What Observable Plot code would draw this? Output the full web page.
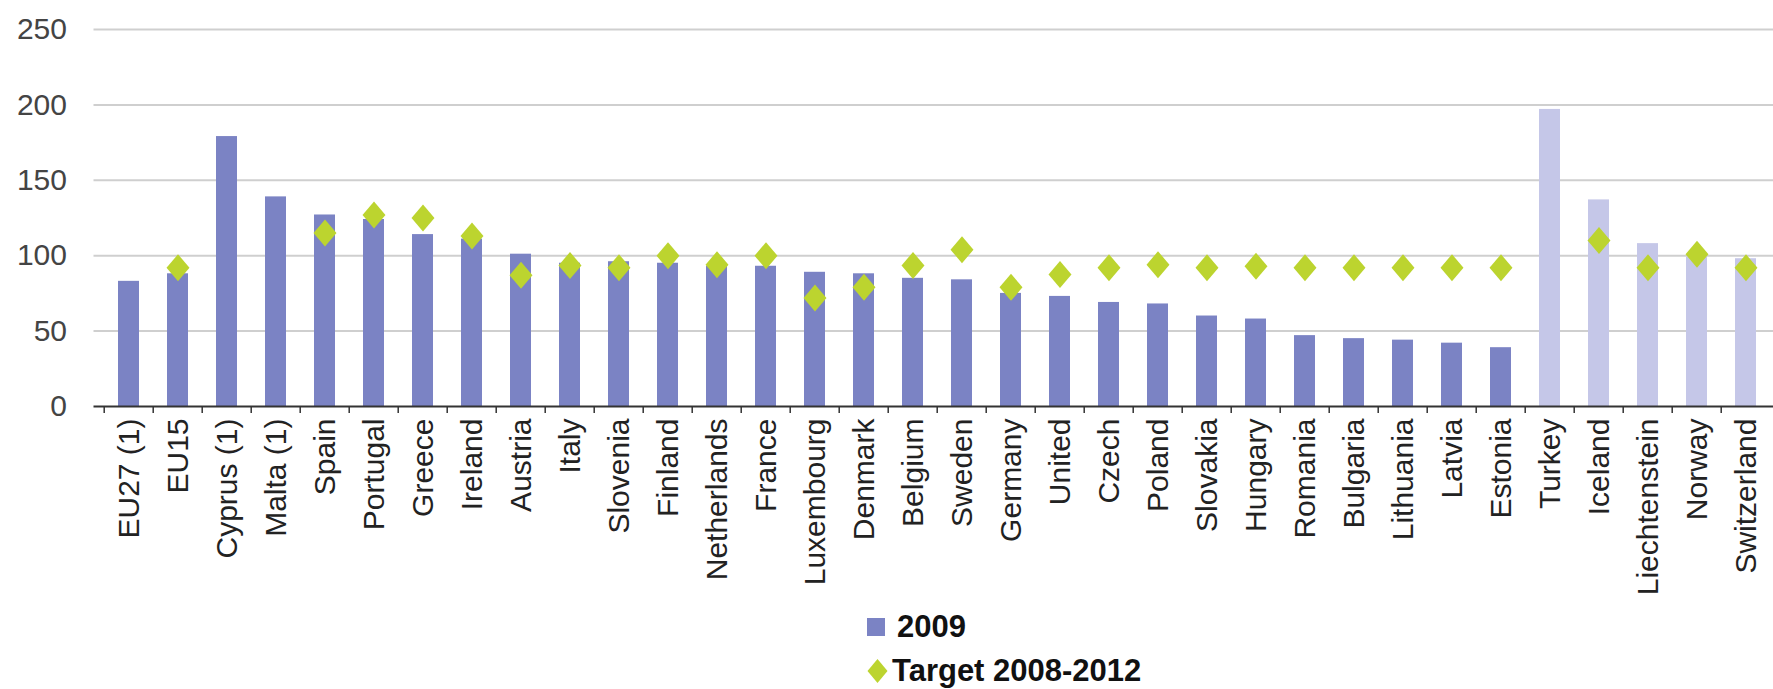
<!DOCTYPE html>
<html>
<head>
<meta charset="utf-8">
<script src="https://cdn.jsdelivr.net/npm/d3@7"></script>
<script src="https://cdn.jsdelivr.net/npm/@observablehq/plot@0.6"></script>
<style>
  html, body { margin: 0; padding: 0; background: #fff; overflow: hidden; }
  #chart svg { display: block; max-width: none; }
  .legend { position: relative; height: 79px; font-family: "Liberation Sans", Arial, sans-serif;
            font-size: 31px; font-weight: bold; color: #111; }
  .row { position: absolute; display: flex; align-items: center; height: 30px; white-space: nowrap; }
  .sq { width: 18px; height: 18px; background: #7b83c4; margin-right: 12px; }
</style>
</head>
<body>
<div id="chart"></div>
<div class="legend" id="legend"></div>
<script>
// ---- data ----
const countries = ["EU27 (1)", "EU15", "Cyprus (1)", "Malta (1)", "Spain", "Portugal", "Greece", "Ireland",
  "Austria", "Italy", "Slovenia", "Finland", "Netherlands", "France", "Luxembourg", "Denmark", "Belgium",
  "Sweden", "Germany", "United", "Czech", "Poland", "Slovakia", "Hungary", "Romania", "Bulgaria",
  "Lithuania", "Latvia", "Estonia", "Turkey", "Iceland", "Liechtenstein", "Norway", "Switzerland"];
const values2009 = [83, 88, 179, 139, 127, 124, 114, 111, 101, 95, 96, 95, 93, 93, 89, 88, 85, 84, 75, 73,
  69, 68, 60, 58, 47, 45, 44, 42, 39, 197, 137, 108, 99, 98];
const target2008_2012 = [null, 92, null, null, 115, 127, 125, 113, 87, 93.5, 92, 100, 94, 100, 72, 79, 93.5,
  104, 79, 87.5, 92, 94, 92, 93, 92, 92, 92, 92, 92, null, 110, 92, 101, 92];
const groups = [...Array(29).fill("EU"), ...Array(5).fill("Other")];
const yTicks = [0, 50, 100, 150, 200, 250];
const seriesLabels = ["2009", "Target 2008-2012"];

const barColor = "#7b83c4", barColorLight = "#c5c7e8", diamondColor = "#bcd42f";

const rows = countries.map((c, i) => ({country: c, v: values2009[i], t: target2008_2012[i], g: groups[i]}));

const xRange = [93.5, 1779.6];
const step = (xRange[1] - xRange[0]) / countries.length;

const diamond = {
  draw(ctx, size) {
    const r = Math.sqrt(size / Math.PI), w = r * 0.85;
    ctx.moveTo(0, -r); ctx.lineTo(w, 0); ctx.lineTo(0, r); ctx.lineTo(-w, 0); ctx.closePath();
  }
};

const chart = Plot.plot({
  width: 1773,
  height: 610,
  marginTop: 29,
  marginBottom: 204,
  marginLeft: 93.5,
  marginRight: 0,
  style: {fontFamily: "'Liberation Sans', Arial, sans-serif", fontSize: "30px", color: "#333", background: "#fff"},
  x: {domain: countries, range: xRange, paddingInner: 0.58, paddingOuter: 0.29, label: null},
  y: {domain: [0, 250], label: null},
  color: {domain: ["EU", "Other"], range: [barColor, barColorLight]},
  marks: [
    Plot.gridY(yTicks.slice(1), {stroke: "#cfcfcf", strokeOpacity: 1, strokeWidth: 2}),
    Plot.barY(rows, {x: "country", y: "v", fill: "g"}),
    Plot.ruleY([0], {stroke: "#333", strokeWidth: 2}),
    Plot.ruleX(countries, {x: d => d, dx: -step / 2, y1: 0, y2: -4.6, stroke: "#333", strokeWidth: 1.5}),
    Plot.dot(rows.filter(d => d.t != null), {x: "country", y: "t", symbol: diamond, r: 13.5, fill: diamondColor, stroke: null}),
    Plot.axisY(yTicks, {tickSize: 0, tickPadding: 27, fontSize: 30, color: "#444"}),
    Plot.axisX({tickRotate: -90, tickSize: 0, tickPadding: 12, fontSize: 30, color: "#222"})
  ]
});
document.getElementById("chart").appendChild(chart);

// legend below the SVG
const legend = document.getElementById("legend");
legend.innerHTML = `
  <div class="row" style="left:867px; top:2px;"><div class="sq"></div><span>${seriesLabels[0]}</span></div>
  <div class="row" style="left:867px; top:46px;">
    <svg width="21" height="24" style="margin-right:4px"><path d="M10.5,0 L20.5,12 L10.5,24 L0.5,12 Z" fill="${diamondColor}"/></svg>
    <span>${seriesLabels[1]}</span></div>`;
</script>
</body>
</html>
